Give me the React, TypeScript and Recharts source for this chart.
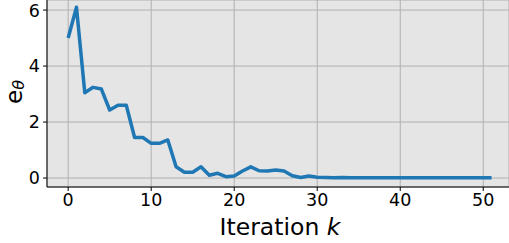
import React from 'react';
import { LineChart, Line, XAxis, YAxis, CartesianGrid } from 'recharts';

const ITERATIONS = Array.from({ length: 52 }, (_, i) => i);
const ERRORS = [
  5.0, 6.1, 3.05, 3.24, 3.18, 2.43, 2.6, 2.6, 1.45, 1.45,
  1.24, 1.24, 1.36, 0.4, 0.21, 0.21, 0.4, 0.1, 0.17, 0.05,
  0.07, 0.25, 0.4, 0.26, 0.25, 0.29, 0.25, 0.08, 0.02, 0.07,
  0.03, 0.02, 0.01, 0.02, 0.01, 0.01, 0.01, 0.01, 0.01, 0.01,
  0.01, 0.01, 0.01, 0.01, 0.01, 0.01, 0.01, 0.01, 0.01, 0.01,
  0.01, 0.01,
];
const X_TICKS = [0, 10, 20, 30, 40, 50];
const Y_TICKS = [0, 2, 4, 6];

const data = ITERATIONS.map((k, i) => ({ k, e: ERRORS[i] }));

const FONT = 'DejaVu Sans';
const tickStyle = { fontSize: 17.5, fill: '#000', fontFamily: FONT };

export default function App() {
  return (
    <div style={{ position: 'absolute', left: 0, top: 0, width: 509, height: 243, background: '#fff' }}>
      <LineChart width={509} height={243} data={data} margin={{ top: 0, right: 0, bottom: 0, left: 0 }}>
        <CartesianGrid fill="#e5e5e5" stroke="#b0b0b0" strokeWidth={1} />
        <XAxis
          dataKey="k"
          type="number"
          domain={[-2.55, 53.1]}
          ticks={X_TICKS}
          allowDataOverflow
          height={56}
          tickSize={4}
          tickMargin={3}
          stroke="#000"
          tick={tickStyle}
          label={() => (
            <text x={280} y={235} textAnchor="middle" fontFamily={FONT} fontSize={23.5} fill="#000">
              Iteration <tspan fontStyle="italic">k</tspan>
            </text>
          )}
        />
        <YAxis
          type="number"
          domain={[-0.32, 6.36]}
          ticks={Y_TICKS}
          allowDataOverflow
          width={47}
          tickSize={4}
          tickMargin={3}
          stroke="#000"
          tick={tickStyle}
          label={() => (
            <text transform="translate(22,104) rotate(-90)" textAnchor="start" fontFamily={FONT} fontSize={23} fill="#000">
              e<tspan fontStyle="italic" fontSize={16} dy={2}>θ</tspan>
            </text>
          )}
        />
        <Line
          type="linear"
          dataKey="e"
          stroke="#1f77b4"
          strokeWidth={3.5}
          strokeLinejoin="round"
          dot={false}
          isAnimationActive={false}
        />
      </LineChart>
    </div>
  );
}
